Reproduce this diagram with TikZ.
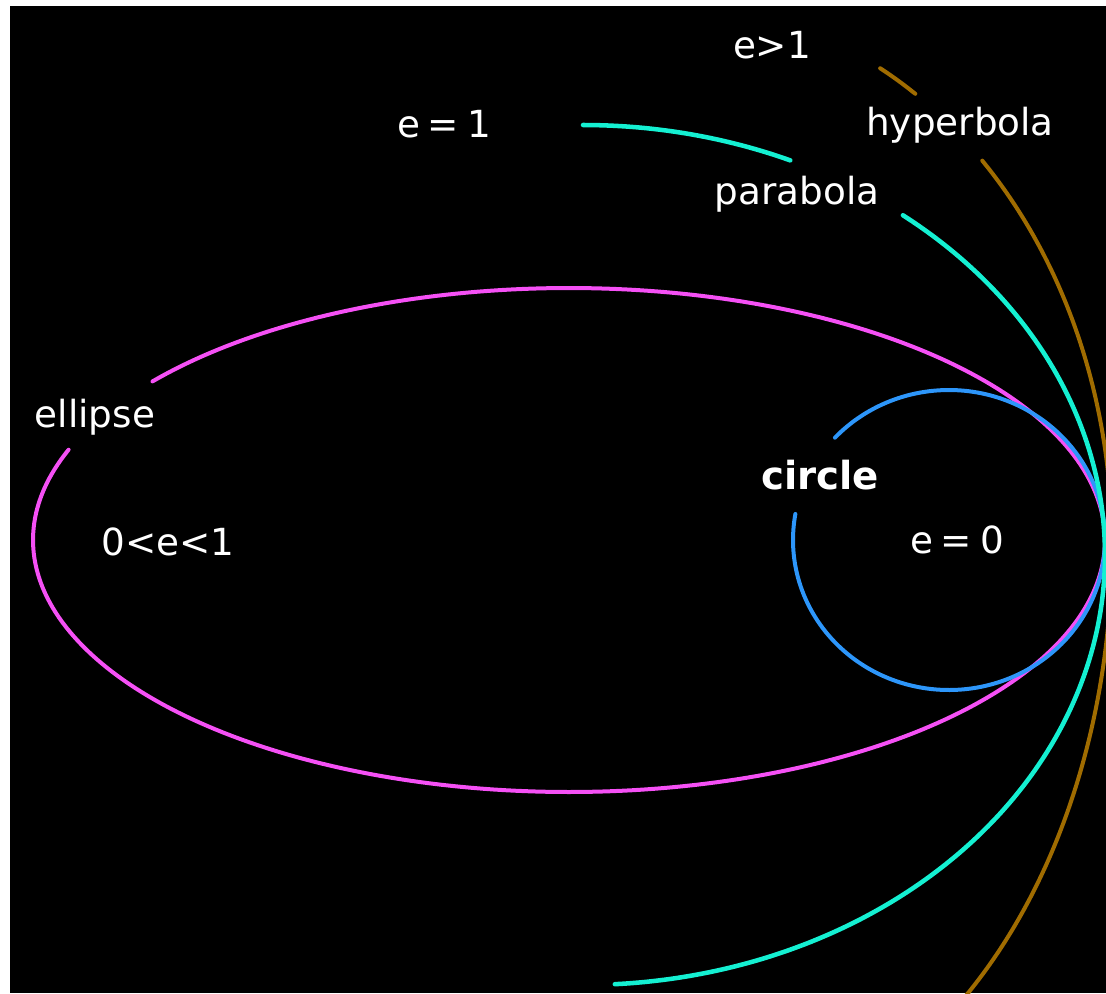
\documentclass[tikz,border=0pt]{standalone}
\usepackage{fontspec}
\setmainfont{DejaVu Sans}
\definecolor{ellcol}{RGB}{245,80,245}
\definecolor{parcol}{RGB}{20,240,210}
\definecolor{circcol}{RGB}{45,150,250}
\definecolor{hypcol}{RGB}{160,108,0}
\newcommand\mylblfont{\fontsize{28}{32}\selectfont\fontdimen2\font=6pt\relax}
\newcommand\myboldfont{\fontsize{29}{32}\selectfont\bfseries}
\begin{document}
\begin{tikzpicture}[x=0.75pt,y=-0.75pt,
  curve/.style={line width=3pt, line cap=round, line join=round},
  lbl/.style={text=white, font=\mylblfont, inner sep=0pt, anchor=base},
  blbl/.style={lbl, font=\myboldfont}]
\useasboundingbox (0,0) rectangle (1106,993);
\fill[white] (0,0) rectangle (1106,993);
\fill[black] (10,6) rectangle (1106,993);
\begin{scope}
\clip (10,6) rectangle (1106,993);
% ellipse (0<e<1)
\draw[curve, ellcol] plot[domain=159:501, samples=300, variable=\t] ({569+536*cos(\t)},{540-252*sin(\t)});
% circle (e=0)
\draw[curve, circcol] plot[domain=170:497, samples=200, variable=\t] ({949+156*cos(\t)},{540-150*sin(\t)});
% parabola (e=1)
\draw[curve, parcol, line width=3.4pt] plot[domain=90:66.6, samples=40, variable=\t] ({583+522*cos(\t)},{555-430*sin(\t)});
\draw[curve, parcol, line width=3.4pt] plot[domain=52.2:-86.5, samples=200, variable=\t] ({583+522*cos(\t)},{555-430*sin(\t)});
% hyperbola (e>1)
\draw[curve, hypcol] plot[domain=62.4:57, samples=20, variable=\t] ({680+432*cos(\t)},{545-538*sin(\t)});
\draw[curve, hypcol] plot[domain=45.6:0, samples=100, variable=\t] ({680+432*cos(\t)},{545-538*sin(\t)})
  -- plot[domain=0:-62, samples=120, variable=\t] ({700+412*cos(\t)},{545-590*sin(\t)});
\end{scope}
\node[lbl] (eg1) at (772,58) {e>1};
\node[lbl] (hyp) at (960,135) {hyperbola};
\node[lbl] (e1) at (444,137) {e = 1};
\node[lbl] (par) at (797,204) {parabola};
\node[lbl] (ell) at (95,427) {ellipse};
\node[lbl] (eell) at (168,555) {0<e<1};
\node[blbl] (circ) at (820,489) {circle};
\node[lbl] (e0) at (957,553) {e = 0};
\end{tikzpicture}
\end{document}
